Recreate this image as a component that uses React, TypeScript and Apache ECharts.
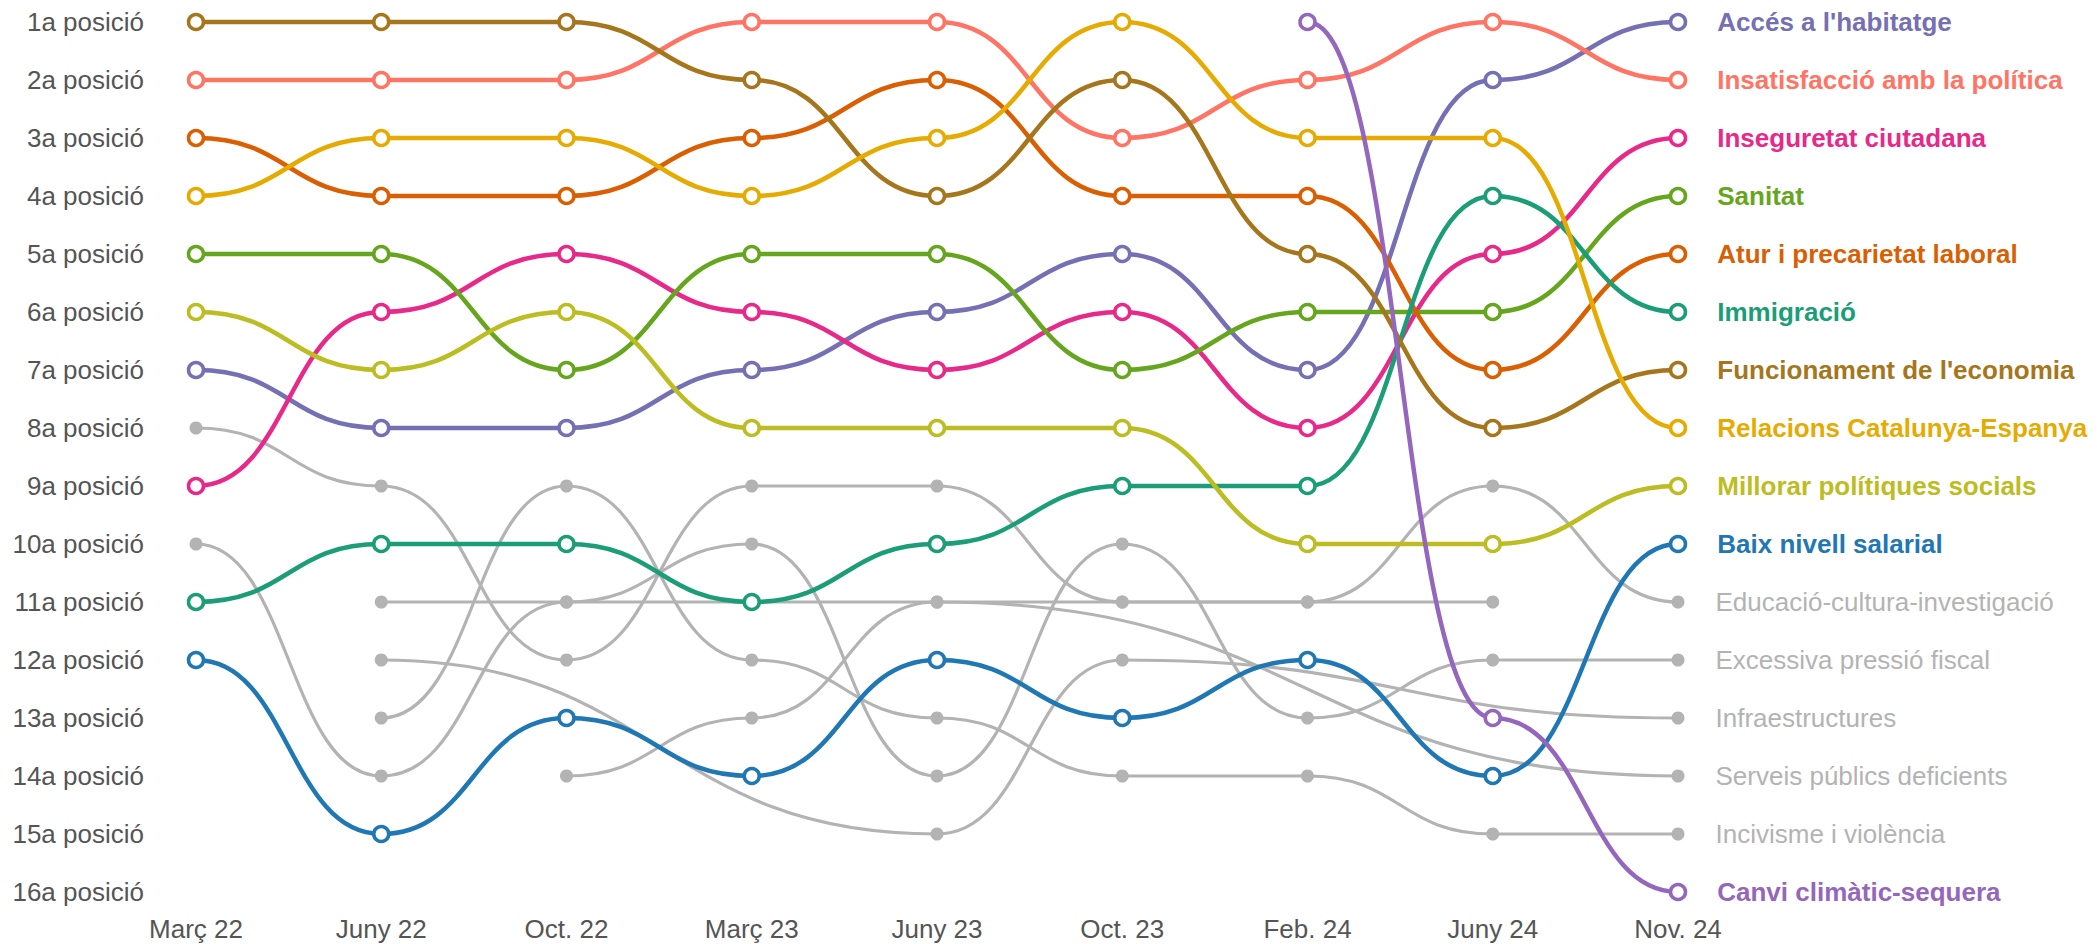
import React, { useEffect, useRef } from "react";
import * as echarts from "echarts";

// ---- Data ----
const periods = ["Març 22", "Juny 22", "Oct. 22", "Març 23", "Juny 23", "Oct. 23", "Feb. 24", "Juny 24", "Nov. 24"];
const rankLabels = [
  "1a posició", "2a posició", "3a posició", "4a posició", "5a posició", "6a posició", "7a posició", "8a posició",
  "9a posició", "10a posició", "11a posició", "12a posició", "13a posició", "14a posició", "15a posició", "16a posició",
];

// highlighted topics (rank per period, null = not ranked)
const accesHabitatge = [7, 8, 8, 7, 6, 5, 7, 2, 1];
const insatisfaccioPolitica = [2, 2, 2, 1, 1, 3, 2, 1, 2];
const inseguretatCiutadana = [9, 6, 5, 6, 7, 6, 8, 5, 3];
const sanitat = [5, 5, 7, 5, 5, 7, 6, 6, 4];
const aturPrecarietat = [3, 4, 4, 3, 2, 4, 4, 7, 5];
const immigracio = [11, 10, 10, 11, 10, 9, 9, 4, 6];
const funcionamentEconomia = [1, 1, 1, 2, 4, 2, 5, 8, 7];
const relacionsCatEsp = [4, 3, 3, 4, 3, 1, 3, 3, 8];
const politiquesSocials = [6, 7, 6, 8, 8, 8, 10, 10, 9];
const baixNivellSalarial = [12, 15, 13, 14, 12, 13, 12, 14, 10];
const canviClimatic = [null, null, null, null, null, null, 1, 13, 16];

// grey topics
const educacioCultura = [8, 9, 12, 9, 9, 11, 11, 9, 11];
const pressioFiscal = [10, 14, 11, 10, 14, 10, 13, 12, 12];
const infraestructures = [null, 12, null, null, 15, 12, null, null, 13];
const serveisPublics = [null, null, 14, 13, 11, null, null, null, 14];
const incivisme = [null, 13, 9, 12, 13, 14, 14, 15, 15];
const altres = [null, 11, 11, null, 11, 11, 11, 11, null];

type Topic = { name: string; values: (number | null)[]; highlighted: boolean };

const colourTopics: Topic[] = [
  { name: "Accés a l'habitatge", values: accesHabitatge, highlighted: true },
  { name: "Insatisfacció amb la política", values: insatisfaccioPolitica, highlighted: true },
  { name: "Inseguretat ciutadana", values: inseguretatCiutadana, highlighted: true },
  { name: "Sanitat", values: sanitat, highlighted: true },
  { name: "Atur i precarietat laboral", values: aturPrecarietat, highlighted: true },
  { name: "Immigració", values: immigracio, highlighted: true },
  { name: "Funcionament de l'economia", values: funcionamentEconomia, highlighted: true },
  { name: "Relacions Catalunya-Espanya", values: relacionsCatEsp, highlighted: true },
  { name: "Millorar polítiques socials", values: politiquesSocials, highlighted: true },
  { name: "Baix nivell salarial", values: baixNivellSalarial, highlighted: true },
  { name: "Canvi climàtic-sequera", values: canviClimatic, highlighted: true },
];

const greyTopics: Topic[] = [
  { name: "Altres", values: altres, highlighted: false },
  { name: "Educació-cultura-investigació", values: educacioCultura, highlighted: false },
  { name: "Excessiva pressió fiscal", values: pressioFiscal, highlighted: false },
  { name: "Infraestructures", values: infraestructures, highlighted: false },
  { name: "Serveis públics deficients", values: serveisPublics, highlighted: false },
  { name: "Incivisme i violència", values: incivisme, highlighted: false },
];

// ---- Styles ----
const topicColours: Record<string, string> = {
  "Accés a l'habitatge": "#7570b3",
  "Insatisfacció amb la política": "#ff7464",
  "Inseguretat ciutadana": "#e7298a",
  "Sanitat": "#66a61e",
  "Atur i precarietat laboral": "#d95f02",
  "Immigració": "#1b9e77",
  "Funcionament de l'economia": "#a6761d",
  "Relacions Catalunya-Espanya": "#e6ab02",
  "Millorar polítiques socials": "#bcbd22",
  "Baix nivell salarial": "#1f77b4",
  "Canvi climàtic-sequera": "#9467bd",
};
const GREY = "#b3b3b3";
const FONT = "'Liberation Sans', Arial, Helvetica, sans-serif";

export default function App() {
  const ref = useRef<HTMLDivElement>(null);

  useEffect(() => {
    if (!ref.current) return;
    const chart = echarts.init(ref.current, null, { renderer: "svg" });
    const ordered = [...greyTopics, ...colourTopics];
    const lineSeries: any[] = [];
    const markerSeries: any[] = [];

    ordered.forEach((t) => {
      const hl = t.highlighted;
      const colour = hl ? topicColours[t.name] : GREY;
      const pts = t.values
        .map((v, i) => (v == null ? null : [i, v]))
        .filter((p) => p !== null) as number[][];

      lineSeries.push({
        type: "custom",
        name: t.name + " (línia)",
        silent: true,
        clip: false,
        z: hl ? 4 : 2,
        data: pts,
        encode: { x: 0, y: 1 },
        renderItem: (params: any, api: any) => {
          const k = params.dataIndex;
          if (k >= pts.length - 1) return { type: "group", children: [] };
          const a = api.coord(pts[k]);
          const b = api.coord(pts[k + 1]);
          const mx = (a[0] + b[0]) / 2;
          return {
            type: "bezierCurve",
            shape: { x1: a[0], y1: a[1], cpx1: mx, cpy1: a[1], cpx2: mx, cpy2: b[1], x2: b[0], y2: b[1] },
            style: { stroke: colour, lineWidth: hl ? 4.5 : 3.2, fill: "none" },
          };
        },
      });

      const lastIdx = pts.length - 1;
      const showLabel = pts[lastIdx][0] === periods.length - 1;
      markerSeries.push({
        type: "scatter",
        name: t.name,
        silent: true,
        z: hl ? 5 : 3,
        symbol: "circle",
        symbolSize: hl ? 15 : 13,
        itemStyle: hl
          ? { color: "#ffffff", borderColor: colour, borderWidth: 3.5, opacity: 1 }
          : { color: GREY, opacity: 1 },
        label: {
          show: false,
          position: "right",
          distance: hl ? 30 : 31,
          formatter: t.name,
          color: colour,
          fontSize: 26,
          fontWeight: hl ? "bold" : "normal",
          fontFamily: FONT,
        },
        data: pts.map((p, k) =>
          k === lastIdx && showLabel ? { value: p, label: { show: true } } : { value: p }
        ),
      });
    });

    chart.setOption({
      animation: false,
      backgroundColor: "#ffffff",
      grid: { left: 196, right: 419, top: 22, bottom: 52, containLabel: false },
      xAxis: {
        type: "value",
        min: 0,
        max: periods.length - 1,
        interval: 1,
        axisLine: { show: false },
        axisTick: { show: false },
        splitLine: { show: false },
        axisLabel: {
          formatter: (v: number) => periods[v] ?? "",
          color: "#555555",
          fontSize: 26,
          fontFamily: FONT,
          margin: 24,
        },
      },
      yAxis: {
        type: "value",
        inverse: true,
        min: 1,
        max: rankLabels.length,
        interval: 1,
        axisLine: { show: false },
        axisTick: { show: false },
        splitLine: { show: false },
        axisLabel: {
          formatter: (v: number) => rankLabels[v - 1] ?? "",
          color: "#555555",
          fontSize: 26,
          fontFamily: FONT,
          margin: 52,
        },
      },
      series: [...lineSeries, ...markerSeries],
    });

    return () => chart.dispose();
  }, []);

  return (
    <div
      ref={ref}
      style={{ position: "absolute", left: 0, top: 0, width: 2097, height: 944, background: "#fff" }}
    />
  );
}
